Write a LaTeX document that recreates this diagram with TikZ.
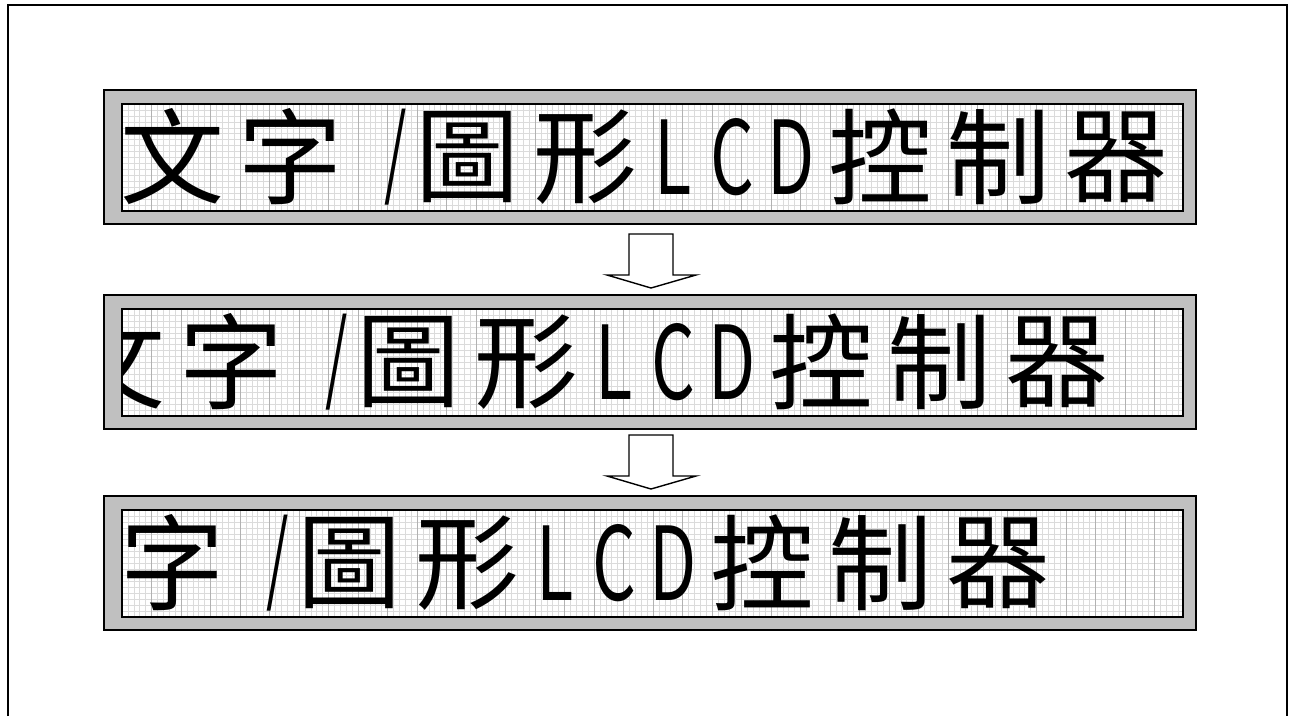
\documentclass[tikz,border=0pt]{standalone}
\usepackage{fontspec}
\newfontfamily\lcdfont{Noto Sans CJK TC}
\definecolor{framegray}{RGB}{192,192,192}

\newcommand{\lcdhalf}[1]{\scalebox{0.66}[0.98]{#1}}
\newcommand{\lcdslash}{\scalebox{0.55}[0.95]{/}}

% one LCD panel: name, top edge, scroll in half cells
\newcommand{\lcdpanel}[3]{%
\draw[lcdframe] (104,-#2) rectangle (1196,-#2-134);
\coordinate (#1-nw) at (122,-#2-14);
\coordinate (#1-se) at (1183,-#2-121);
\fill[white] (#1-nw) rectangle (#1-se);
\begin{scope}
\clip (#1-nw) rectangle (#1-se);
\begin{scope}[shift={(122,-#2-121)}]
\draw[dotgrid] (0,0) grid[xstep=5.9,ystep=5.944] (1061,107);
\draw[cellgrid] (0,0) grid[xstep=29.5,ystep=107] (1061,107);
\foreach \ch/\pos/\nm in {文/1/wen, 字/3/zi, \lcdslash/4.8/slash, 圖/6/tu, 形/8/xing,
  \lcdhalf{L}/9.5/l, \lcdhalf{C}/10.5/c, \lcdhalf{D}/11.5/d, 控/13/kong, 制/15/zhi, 器/17/qi}
  \node[lcdchar] (#1-\nm) at ({59*(\pos-#3)-9},54) {\ch};
\end{scope}
\end{scope}
\draw[lcdscreen] (#1-nw) rectangle (#1-se);
}

% hollow arrow hanging from its top middle
\newcommand{\scrollarrow}[1]{%
\draw[blockarrow] (#1) ++(-22,0) -- ++(0,-41) -- ++(-22,0) -- ++(44,-13)
  -- ++(45,13) -- ++(-23,0) -- ++(0,41) -- cycle;
}

\begin{document}
\begin{tikzpicture}[x=1pt,y=1pt,
  lcdframe/.style={draw=black,line width=1.8pt,fill=framegray},
  lcdscreen/.style={draw=black,line width=2.4pt},
  dotgrid/.style={draw=black!14,line width=0.5pt},
  cellgrid/.style={draw=black!30,line width=0.6pt},
  lcdchar/.style={font=\lcdfont\fontsize{104}{104}\selectfont,inner sep=0pt,anchor=center},
  blockarrow/.style={draw=black,line width=1.4pt,fill=white,line join=miter}]
\useasboundingbox (0,0) rectangle (1289,-716);

\draw[line width=2pt] (8,-716) -- (8,-5) -- (1287,-5) -- (1287,-716);

\lcdpanel{lcdA}{90}{0}
\lcdpanel{lcdB}{295}{1}
\lcdpanel{lcdC}{496}{2}

\coordinate (arrowA) at (651,-234);
\coordinate (arrowB) at (651,-435);
\scrollarrow{arrowA}
\scrollarrow{arrowB}
\end{tikzpicture}
\end{document}
